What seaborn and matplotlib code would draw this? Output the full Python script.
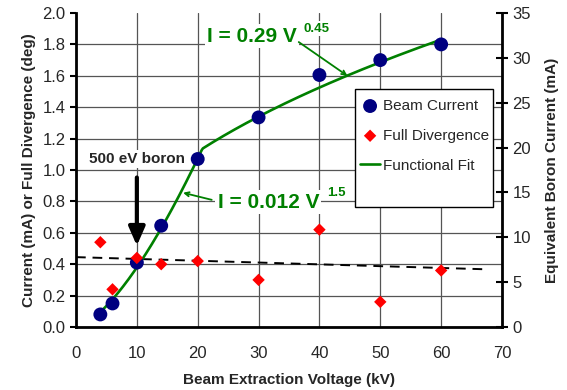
import numpy as np
import pandas as pd
import matplotlib
matplotlib.use("Agg")
import matplotlib.pyplot as plt
from matplotlib.patches import Rectangle
from matplotlib.ticker import FormatStrFormatter
import seaborn as sns

# --- data ---
voltage_kv = [4, 6, 10, 14, 20, 30, 40, 50, 60]
beam_current_ma = [0.08, 0.15, 0.41, 0.645, 1.07, 1.335, 1.605, 1.70, 1.80]
full_divergence_deg = [0.54, 0.24, 0.44, 0.40, 0.42, 0.30, 0.62, 0.16, 0.36]

# dashed divergence trend (end points)
trend_kv = [0, 67]
trend_deg = [0.445, 0.368]

# functional fit: I = a * V^b, low-voltage and high-voltage branches
fit_low_a, fit_low_b = 0.012, 1.5
fit_high_a, fit_high_b = 0.29, 0.45
fit_v_range = (4, 60)

# right axis: equivalent boron current, full scale 0..35 mA for 0..2.0
boron_full_scale = 35.0

# --- build frames ---
pts = pd.DataFrame({"V": voltage_kv, "I": beam_current_ma, "div": full_divergence_deg})
fit_v = np.linspace(fit_v_range[0], fit_v_range[1], 300)
fit_i = np.minimum(fit_low_a * fit_v ** fit_low_b, fit_high_a * fit_v ** fit_high_b)
fit = pd.DataFrame({"V": fit_v, "I": fit_i})
trend = pd.DataFrame({"V": trend_kv, "div": trend_deg})

sns.set_style("white")
plt.rcParams['font.family'] = ['Liberation Sans', 'DejaVu Sans']

fig = plt.figure(figsize=(5.67, 3.9), dpi=100)
ax = fig.add_axes([76 / 567, 1 - 327 / 390, 426 / 567, 314 / 390])

green = "#008000"
navy = "#000080"

sns.lineplot(data=trend, x="V", y="div", ax=ax, color="black", lw=1.4,
             dashes=False, linestyle=(0, (5, 3.5)), label="_nolegend_", zorder=3)
sns.lineplot(data=fit, x="V", y="I", ax=ax, color=green, lw=1.9,
             label="Functional Fit", zorder=4)
sns.scatterplot(data=pts, x="V", y="I", ax=ax, color=navy, marker="o", s=100,
                edgecolor="none", label="Beam Current", zorder=5)
sns.scatterplot(data=pts, x="V", y="div", ax=ax, color="#ff0000", marker="D", s=40,
                edgecolor="none", label="Full Divergence", zorder=6)

ax.set_xlim(0, 70)
ax.set_ylim(0, 2.0)
ax.set_xticks(range(0, 71, 10))
ax.set_yticks(np.arange(0, 2.01, 0.2))
ax.yaxis.set_major_formatter(FormatStrFormatter('%.1f'))
ax.grid(True, color="#555555", lw=0.9)
ax.yaxis.get_gridlines()[-1].set_visible(False)
ax.set_axisbelow(True)

for s in ["left", "bottom"]:
    ax.spines[s].set_linewidth(2)
    ax.spines[s].set_color("black")
ax.spines["top"].set_visible(False)
ax.spines["right"].set_visible(False)
ax.tick_params(axis="both", direction="out", length=4, width=1.5, labelsize=12, color="black")
ax.tick_params(axis="x", pad=10)

ax.set_xlabel("Beam Extraction Voltage (kV)", fontsize=11, fontweight="bold")
ax.set_ylabel("Current (mA) or Full Divergence (deg)", fontsize=11, fontweight="bold")
ax.xaxis.set_label_coords(0.5, -0.145)
ax.yaxis.set_label_coords(-0.093, 0.5)

# right axis
ax2 = ax.twinx()
ax2.set_ylim(0, boron_full_scale)
ax2.set_yticks(range(0, 36, 5))
for s in ["left", "bottom", "top"]:
    ax2.spines[s].set_visible(False)
ax2.spines["right"].set_linewidth(2)
ax2.spines["right"].set_color("black")
ax2.tick_params(axis="y", direction="inout", length=8, width=1.5, labelsize=12, color="black")
ax2.set_ylabel("Equivalent Boron Current (mA)", fontsize=11, fontweight="bold")
ax2.yaxis.set_label_coords(1.101, 0.5)
ax2.grid(False)

# legend with box
ax.add_patch(Rectangle((0.655, 0.382), 0.324, 0.376, transform=ax.transAxes,
                       facecolor="white", edgecolor="black", lw=1, zorder=7))
handles, labels = ax.get_legend_handles_labels()
order = [labels.index(n) for n in ["Beam Current", "Full Divergence", "Functional Fit"]]
leg = ax.legend([handles[i] for i in order], [labels[i] for i in order],
                loc="upper left", bbox_to_anchor=(0.667, 0.726), frameon=False,
                fontsize=11, borderpad=0, borderaxespad=0, labelspacing=1.03,
                handlelength=1.3, handletextpad=0.2, markerscale=1.0)
leg.set_zorder(8)

# annotations
box = dict(boxstyle="square,pad=0.1", facecolor="white", edgecolor="none")
ax.text(10, 1.07, "500 eV boron", fontsize=11, fontweight="bold", ha="center",
        va="center", bbox=box, zorder=9)
ax.annotate("", xy=(10, 0.50), xytext=(10, 0.97),
            arrowprops=dict(arrowstyle="-|>,head_width=0.35,head_length=0.8",
                            lw=3, color="black", mutation_scale=14), zorder=9)

ax.text(28.9, 1.853, "I = 0.29 V", fontsize=15, fontweight="bold", color=green,
        ha="center", va="center", bbox=box, zorder=9)
ax.text(37.4, 1.90, "0.45", fontsize=9.5, fontweight="bold", color=green,
        ha="left", va="center", bbox=box, zorder=9)
ax.annotate("", xy=(44.6, 1.60), xytext=(36.6, 1.815),
            arrowprops=dict(arrowstyle="->,head_width=0.15,head_length=0.3",
                            lw=1.3, color=green, shrinkA=0, shrinkB=0), zorder=9)

ax.text(31.6, 0.796, "I = 0.012 V", fontsize=15, fontweight="bold", color=green,
        ha="center", va="center", bbox=box, zorder=9)
ax.text(41.3, 0.853, "1.5", fontsize=9.5, fontweight="bold", color=green,
        ha="left", va="center", bbox=box, zorder=9)
ax.annotate("", xy=(17.6, 0.855), xytext=(22.3, 0.81),
            arrowprops=dict(arrowstyle="->,head_width=0.15,head_length=0.3",
                            lw=1.3, color=green, shrinkA=0, shrinkB=0), zorder=9)

fig.savefig("out.png", dpi=100)
